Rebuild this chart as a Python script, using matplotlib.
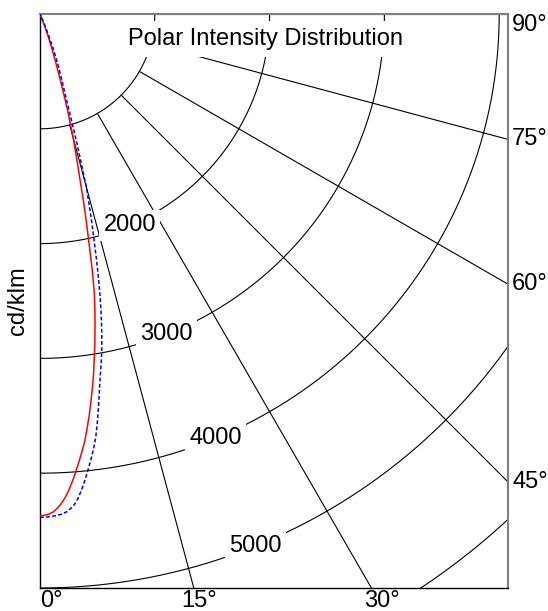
import numpy as np
import matplotlib
matplotlib.use("Agg")
import matplotlib.pyplot as plt

plt.rcParams['font.family'] = ['Liberation Sans', 'DejaVu Sans']

# intensity (cd/klm) against angle from nadir
angles = [0, 0.5, 1, 1.5, 2, 2.5, 3, 3.5, 4, 4.5, 5, 5.5, 6, 6.5, 7, 7.5, 8, 8.5,
          9, 9.5, 10, 10.5, 11, 11.5, 12, 12.5, 13, 14, 15, 16, 17, 18, 19, 20,
          21, 22, 23, 24, 25]
red_cd = [4370, 4367, 4358, 4340, 4308, 4268, 4215, 4150, 4075, 3995, 3910, 3825,
          3738, 3630, 3520, 3400, 3285, 3160, 3025, 2895, 2760, 2625, 2480, 2290,
          2070, 1880, 1700, 1360, 1120, 870, 630, 440, 310, 205, 115, 40, 0, 0, 0]
blue_cd = [4385, 4384, 4381, 4376, 4369, 4360, 4345, 4318, 4285, 4230, 4160, 4080,
           3995, 3910, 3820, 3720, 3590, 3450, 3310, 3185, 3075, 2955, 2820, 2675,
           2522, 2350, 2180, 1860, 1560, 1150, 820, 640, 520, 415, 305, 205, 115, 40, 0]

rings = [1000, 2000, 3000, 4000, 5000, 6000]
ring_labels = [2000, 3000, 4000, 5000]
spokes = [15, 30, 45, 60, 75, 90]
bottom_labels = [0, 15, 30]
right_labels = [45, 60, 75, 90]

fs = 17
fig = plt.figure(figsize=(5.48, 6.11), dpi=100)
ax = fig.add_axes([40 / 548, 23 / 611, 468 / 548, 574 / 611])
xmax = 5000 * 468 / 574
ax.set_xlim(0, xmax)
ax.set_ylim(-5000, 0)

# grid: arcs and spokes
t = np.radians(np.linspace(0, 90, 300))
for r in rings:
    ax.plot(r * np.sin(t), -r * np.cos(t), color='black', lw=0.8, zorder=1)
for a in spokes:
    ar = np.radians(a)
    ax.plot([1000 * np.sin(ar), 9000 * np.sin(ar)],
            [-1000 * np.cos(ar), -9000 * np.cos(ar)], color='black', lw=0.8, zorder=1)

label_ang = [23, 21.5, 22.5, 22]
for r, a in zip(ring_labels, label_ang):
    la = np.radians(a)
    ax.text(r * np.sin(la), -r * np.cos(la), str(r), ha='center', va='center',
            fontsize=fs, zorder=2, bbox=dict(fc='white', ec='none', pad=3))

# curves
th = np.radians(angles)
red = np.array(red_cd)
blue = np.array(blue_cd)
ax.plot(red * np.sin(th), -red * np.cos(th), color='red', lw=1.1, zorder=3)
ax.plot(blue * np.sin(th), -blue * np.cos(th), color='blue', lw=1.1,
        ls=(0, (2.5, 1.5)), zorder=3)

# angle labels
yb = -(607 - 14) / 574 * 5000
for a in bottom_labels:
    ax.text(-yb * np.tan(np.radians(a)), yb, '%d°' % a,
            fontsize=fs, ha='left' if a == 0 else 'center', va='baseline',
            clip_on=False)
for a in right_labels:
    y = 0 if a == 90 else -xmax / np.tan(np.radians(a))
    ax.text(xmax + 35, y, '%d°' % a, fontsize=fs, ha='left',
            va='top' if a == 90 else 'center', clip_on=False)

ax.text(0.481, 0.956, 'Polar Intensity Distribution', transform=ax.transAxes,
        ha='center', va='center', fontsize=fs, zorder=4,
        bbox=dict(fc='white', ec='none', pad=5))

ax.set_xticks([])
ax.set_yticks([])
ax.set_ylabel('cd/klm', fontsize=fs, labelpad=8)
for s in ['top', 'right']:
    ax.spines[s].set_color('#808080')
    ax.spines[s].set_linewidth(1.5)
for s in ['left', 'bottom']:
    ax.spines[s].set_color('black')
    ax.spines[s].set_linewidth(1.0)

fig.savefig('out.png', dpi=100)
